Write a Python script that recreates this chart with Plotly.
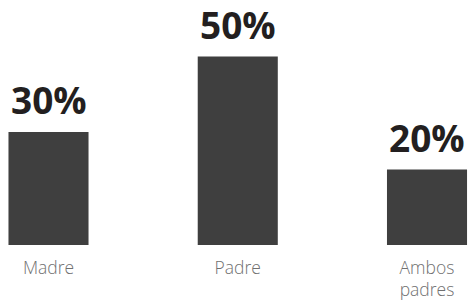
import plotly.graph_objects as go

categories = ["Madre", "Padre", "Ambos<br>padres"]
values = [30, 50, 20]
value_labels = ["30%", "50%", "20%"]

fig = go.Figure()
fig.add_trace(go.Bar(
    x=categories, y=values,
    marker=dict(color="#3f3f3f", line=dict(width=0)),
    hoverinfo="skip",
))
for c, v, t in zip(categories, values, value_labels):
    fig.add_annotation(x=c, y=v, text="<b>%s</b>" % t, showarrow=False,
                       yanchor="bottom", yshift=6, borderpad=0,
                       font=dict(family="Open Sans", size=37, color="#231f20"))

fig.update_layout(
    width=473, height=302,
    margin=dict(l=0, r=0, t=0, b=57, autoexpand=False),
    paper_bgcolor="white", plot_bgcolor="white",
    bargap=0.577,
    showlegend=False,
    xaxis=dict(type="category", range=[-0.2563, 2.243], showline=False,
               automargin=False,
               showgrid=False, zeroline=False, ticks="", ticklabelstandoff=10,
               tickfont=dict(family="Open Sans", size=17.5, color="#707070", weight=300)),
    yaxis=dict(range=[0, 65], visible=False, automargin=False),
)
fig.write_html("out.html", config={"displayModeBar": False},
               post_script="document.body.style.margin='0';document.body.style.overflow='hidden';")
